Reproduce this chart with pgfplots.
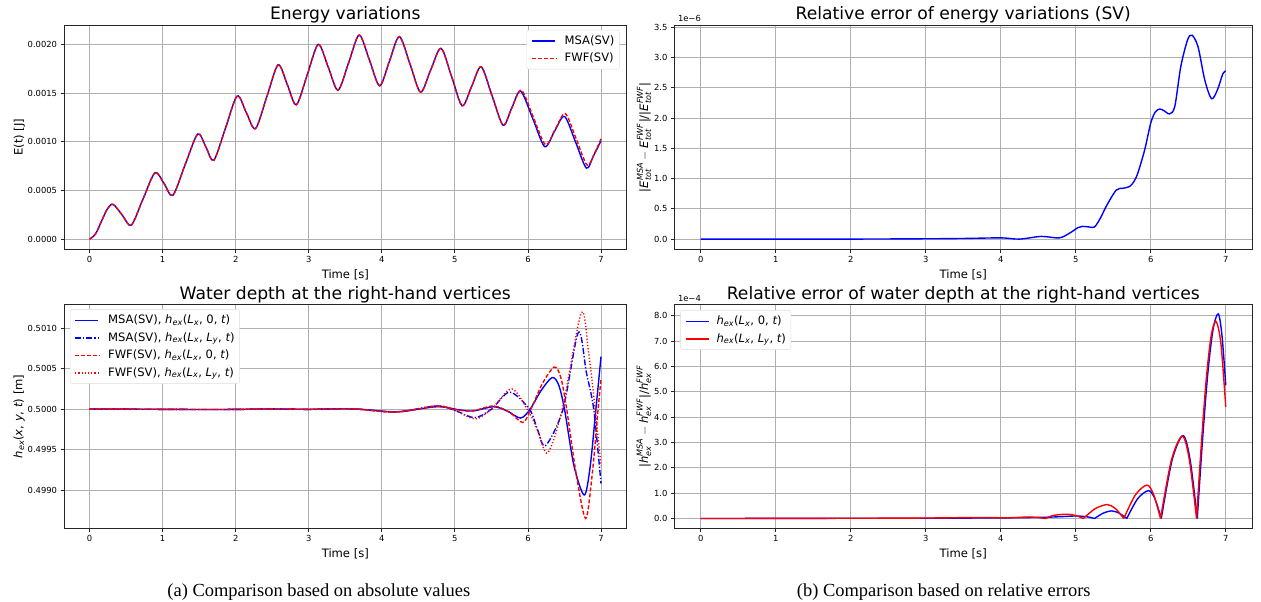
\documentclass[border=0pt]{standalone}
\usepackage{fontspec}
\setmainfont{DejaVu Sans}
\newfontfamily\capfont{Liberation Serif}
\usepackage{amsmath}
\usepackage{pgfplots}
\pgfplotsset{compat=1.18}
\usepackage{pgfplotstable}

\newcommand{\mi}[1]{\text{\itshape #1}}
\newcommand{\tfs}{\fontsize{8.4}{10}\selectfont}
\newcommand{\lfs}{\fontsize{11.6}{13}\selectfont}
\newcommand{\Tfs}{\fontsize{17.2}{20}\selectfont}
\definecolor{gridc}{HTML}{B0B0B0}
\definecolor{legbd}{HTML}{DDDDDD}

% legend samples built from rules
\newcommand{\on}[1]{\rule[2.6pt]{#1}{1.4pt}}
\newcommand{\off}[1]{\hspace*{#1}}
\newcommand{\lsolid}{\on{23pt}}
\newcommand{\ldash}{\on{4pt}\off{2pt}\on{4pt}\off{2pt}\on{4pt}\off{2pt}\on{4pt}\off{2pt}\on{1pt}}
\newcommand{\ldashdot}{\on{6pt}\off{2pt}\on{1.2pt}\off{2pt}\on{6pt}\off{2pt}\on{1.2pt}\off{2pt}\on{0.6pt}}
\newcommand{\ldot}{\on{1.2pt}\off{2pt}\on{1.2pt}\off{2pt}\on{1.2pt}\off{2pt}\on{1.2pt}\off{2pt}\on{1.2pt}\off{2pt}\on{1.2pt}\off{2pt}\on{1.2pt}\off{2pt}\on{1.2pt}}
\tikzset{legbox/.style={draw=legbd, rounded corners=2pt, fill=white, font=\lfs, inner xsep=5pt, inner ysep=2pt}}

\pgfplotsset{
  mpl/.style={
    scale only axis,
    anchor=south west,
    xmin=-0.35, xmax=7.35,
    xtick={0,1,2,3,4,5,6,7},
    xticklabels={0,1,2,3,4,5,6,7},
    grid=major,
    major grid style={draw=gridc, line width=0.8pt},
    axis line style={black!85, line width=0.8pt},
    tick align=outside,
    major tick length=3.5pt,
    tick style={black!85, line width=0.8pt},
    tick pos=left,
    tick label style={font=\tfs},
    label style={font=\lfs},
    ylabel shift=-4pt,
    title style={font=\Tfs, at={(0.5,1)}, anchor=base, yshift=-1pt},
    xlabel={Time [s]},
    /pgf/number format/assume math mode=true,
    scaled ticks=false,
    every axis plot/.append style={line width=1.4pt},
  }
}

\begin{document}
\renewcommand{\arraystretch}{1.35}
\begin{tikzpicture}
\useasboundingbox (0pt,0pt) rectangle (1261pt,603pt);

% ---------------- top left
\begin{axis}[mpl, at={(61pt,353pt)}, width=564pt, height=225pt,
  title={Energy variations}, ylabel={E(t) [J]},
  ymin=-0.000105, ymax=0.0022,
  ytick={0,0.0005,0.001,0.0015,0.002},
  yticklabels={0.0000,0.0005,0.0010,0.0015,0.0020}]
\addplot[draw=blue, solid, smooth] table {
t E
0 0
0.08 0.000052
0.16 0.000179
0.24 0.000306
0.32 0.000358
0.445 0.00025
0.57 0.000143
0.73 0.00041
0.895 0.000682
1.02 0.00057
1.14 0.00045
1.31 0.00077
1.48 0.00108
1.59 0.00095
1.70 0.00081
1.86 0.00114
2.02 0.00147
2.145 0.00130
2.27 0.001135
2.425 0.00146
2.58 0.00179
2.705 0.00159
2.83 0.00138
2.98 0.00169
3.13 0.00200
3.265 0.00177
3.40 0.00153
3.545 0.00181
3.69 0.002096
3.83 0.00184
3.97 0.001575
4.105 0.00183
4.24 0.00208
4.385 0.00180
4.53 0.00151
4.67 0.00174
4.81 0.00196
4.955 0.00167
5.10 0.00137
5.23 0.00157
5.36 0.00177
5.51 0.00147
5.66 0.00117
5.78 0.00135
5.90 0.00152
6.065 0.00124
6.23 0.00095
6.365 0.00111
6.50 0.00126
6.65 0.00100
6.80 0.00073
6.90 0.00086
7.00 0.00101
};
\addplot[draw=red, smooth, dash pattern=on 4pt off 2pt] table {
t E
0 0
0.08 0.000052
0.16 0.000179
0.24 0.000306
0.32 0.000358
0.445 0.00025
0.57 0.000143
0.73 0.00041
0.895 0.000682
1.02 0.00057
1.14 0.00045
1.31 0.00077
1.48 0.00108
1.59 0.00095
1.70 0.00081
1.86 0.00114
2.02 0.00147
2.145 0.00130
2.27 0.001135
2.425 0.00146
2.58 0.00179
2.705 0.00159
2.83 0.00138
2.98 0.00169
3.13 0.00200
3.265 0.00177
3.40 0.00153
3.545 0.00181
3.69 0.002096
3.83 0.00184
3.97 0.001575
4.105 0.00183
4.24 0.00208
4.385 0.00180
4.53 0.00151
4.67 0.00174
4.81 0.00196
4.955 0.00167
5.10 0.00137
5.23 0.00157
5.36 0.00177
5.51 0.00147
5.66 0.00117
5.78 0.00135
5.91 0.00153
6.075 0.00125
6.24 0.00097
6.375 0.00113
6.51 0.00129
6.66 0.00103
6.81 0.00076
6.91 0.00088
7.00 0.00103
};
\node[legbox, anchor=north east] at (rel axis cs:1,1) [xshift=-7pt, yshift=-5pt]
  {\begin{tabular}{@{}l@{\hspace{8pt}}l@{}}
   \textcolor{blue}{\lsolid} & MSA(SV)\\
   \textcolor{red}{\ldash} & FWF(SV)
   \end{tabular}};
\end{axis}

% ---------------- top right
\begin{axis}[mpl, at={(673pt,353pt)}, width=579pt, height=225pt,
  title={Relative error of energy variations (SV)},
  ylabel={$\text{|}\mi{E}^{\mi{MSA}}_{\mi{tot}} - \mi{E}^{\mi{FWF}}_{\mi{tot}}\text{|/|}\mi{E}^{\mi{FWF}}_{\mi{tot}}\text{|}$},
  ymin=-0.17e-6, ymax=3.54e-6,
  ytick={0,0.5e-6,1e-6,1.5e-6,2e-6,2.5e-6,3e-6,3.5e-6},
  yticklabels={0.0,0.5,1.0,1.5,2.0,2.5,3.0,3.5}]
\addplot[draw=blue, solid, smooth] table {
t r
0 0
1 0.0
2 0.0
3 0.005e-6
3.5 0.01e-6
4.0 0.02e-6
4.25 0.0
4.54 0.044e-6
4.78 0.02e-6
4.92 0.10e-6
5.03 0.19e-6
5.09 0.21e-6
5.18 0.20e-6
5.25 0.20e-6
5.33 0.35e-6
5.41 0.55e-6
5.54 0.81e-6
5.63 0.84e-6
5.72 0.87e-6
5.78 0.96e-6
5.83 1.10e-6
5.92 1.48e-6
6.0 1.92e-6
6.06 2.10e-6
6.12 2.15e-6
6.18 2.12e-6
6.25 2.07e-6
6.32 2.19e-6
6.40 2.85e-6
6.49 3.29e-6
6.55 3.37e-6
6.63 3.18e-6
6.72 2.63e-6
6.81 2.32e-6
6.89 2.47e-6
6.96 2.73e-6
7.0 2.78e-6
};
\end{axis}
\node[font=\tfs, anchor=base west] at (673pt,581pt) {1e−6};

% ---------------- bottom left
\begin{axis}[mpl, at={(61pt,73pt)}, width=564pt, height=225pt,
  title={Water depth at the right-hand vertices},
  ylabel={$\mi{h}_{\mi{ex}}$(\mi{x}, \mi{y}, \mi{t}) [m]},
  ymin=0.498524, ymax=0.501296,
  ytick={0.499,0.4995,0.5,0.5005,0.501},
  yticklabels={0.4990,0.4995,0.5000,0.5005,0.5010}]
\addplot[draw=blue, solid, smooth] table {
t h
0 0.500000
0.5 0.500000
1.0 0.499998
1.5 0.499996
2.0 0.499997
2.5 0.500003
3.0 0.499998
3.6 0.500004
4.2 0.499968
4.75 0.500030
5.05 0.499992
5.25 0.499978
5.53 0.500030
5.72 0.499975
5.90 0.499890
6.03 0.500000
6.18 0.500230
6.33 0.500390
6.42 0.500300
6.50 0.500000
6.63 0.499300
6.77 0.498940
6.85 0.499280
6.93 0.500000
7.0 0.500650
};
\addplot[draw=blue, smooth, dash pattern=on 6pt off 2pt on 1.2pt off 2pt] table {
t h
0 0.500000
0.5 0.500000
1.0 0.499998
1.5 0.499996
2.0 0.499997
2.5 0.500003
3.0 0.499998
3.6 0.500004
4.2 0.499965
4.75 0.500040
5.0 0.499985
5.27 0.499895
5.5 0.500000
5.75 0.500210
6.02 0.500000
6.13 0.499750
6.24 0.499550
6.48 0.500000
6.69 0.500950
6.80 0.500450
6.90 0.500000
7.0 0.499080
};
\addplot[draw=red, smooth, dash pattern=on 4pt off 2pt] table {
t h
0 0.500000
0.5 0.500000
1.0 0.499998
1.5 0.499996
2.0 0.499997
2.5 0.500003
3.0 0.499998
3.6 0.500004
4.2 0.499965
4.75 0.500035
5.05 0.499990
5.25 0.499980
5.53 0.500040
5.75 0.499960
5.93 0.499835
6.04 0.500000
6.20 0.500320
6.36 0.500520
6.45 0.500390
6.53 0.500000
6.66 0.499200
6.79 0.498650
6.88 0.499200
6.96 0.500000
7.0 0.500370
};
\addplot[draw=red, smooth, dash pattern=on 1.2pt off 2pt] table {
t h
0 0.500000
0.5 0.500000
1.0 0.499998
1.5 0.499996
2.0 0.499997
2.5 0.500003
3.0 0.499998
3.6 0.500004
4.2 0.499963
4.75 0.500045
5.0 0.499985
5.28 0.499880
5.5 0.500000
5.78 0.500250
6.02 0.499950
6.14 0.499720
6.27 0.499460
6.47 0.500000
6.73 0.501190
6.83 0.500700
6.92 0.500000
7.0 0.499300
};
\node[legbox, anchor=north west] at (rel axis cs:0,1) [xshift=6pt, yshift=-5pt]
  {\begin{tabular}{@{}l@{\hspace{8pt}}l@{}}
   \textcolor{blue}{\lsolid} & MSA(SV), $\mi{h}_{\mi{ex}}$(\mi{L}$_{\mi{x}}$, 0, \mi{t})\\
   \textcolor{blue}{\ldashdot} & MSA(SV), $\mi{h}_{\mi{ex}}$(\mi{L}$_{\mi{x}}$, \mi{L}$_{\mi{y}}$, \mi{t})\\
   \textcolor{red}{\ldash} & FWF(SV), $\mi{h}_{\mi{ex}}$(\mi{L}$_{\mi{x}}$, 0, \mi{t})\\
   \textcolor{red}{\ldot} & FWF(SV), $\mi{h}_{\mi{ex}}$(\mi{L}$_{\mi{x}}$, \mi{L}$_{\mi{y}}$, \mi{t})
   \end{tabular}};
\end{axis}

% ---------------- bottom right
\begin{axis}[mpl, at={(673pt,73pt)}, width=579pt, height=225pt,
  title={Relative error of water depth at the right-hand vertices},
  ylabel={$\text{|}\mi{h}^{\mi{MSA}}_{\mi{ex}} - \mi{h}^{\mi{FWF}}_{\mi{ex}}\text{|/}\mi{h}^{\mi{FWF}}_{\mi{ex}}$},
  ymin=-0.4e-4, ymax=8.45e-4,
  ytick={0,1e-4,2e-4,3e-4,4e-4,5e-4,6e-4,7e-4,8e-4},
  yticklabels={0.0,1.0,2.0,3.0,4.0,5.0,6.0,7.0,8.0}]
\addplot[draw=blue, solid, smooth, unbounded coords=jump] table {
t r
0 0
1 0.005e-4
2 0.01e-4
3 0.01e-4
3.7 0.02e-4
4.2 0.03e-4
4.6 0.05e-4
4.85 0.08e-4
5.0 0.10e-4
5.15 0.07e-4
5.25 0
nan nan
5.25 0
5.365 0.21e-4
5.48 0.30e-4
5.58 0.21e-4
5.68 0
nan nan
5.68 0
5.825 0.78e-4
5.97 1.10e-4
6.055 0.78e-4
6.14 0
nan nan
6.14 0
6.285 2.31e-4
6.43 3.27e-4
6.525 2.31e-4
6.62 0
nan nan
6.62 0
6.69 3.09e-4
6.76 5.7e-4
6.83 7.45e-4
6.90 8.07e-4
6.95 7.2e-4
7.0 5.25e-4
};
\addplot[draw=red, solid, smooth, unbounded coords=jump] table {
t r
0 0
1 0.005e-4
2 0.01e-4
3 0.02e-4
3.7 0.04e-4
4.1 0.03e-4
4.4 0.06e-4
4.6 0
nan nan
4.6 0
4.7 0.12e-4
4.88 0.17e-4
5.0 0.12e-4
5.1 0
nan nan
5.1 0
5.26 0.39e-4
5.42 0.55e-4
5.53 0.39e-4
5.64 0
nan nan
5.64 0
5.795 0.93e-4
5.95 1.32e-4
6.04 0.93e-4
6.13 0
nan nan
6.13 0
6.275 2.30e-4
6.42 3.25e-4
6.515 2.30e-4
6.61 0
nan nan
6.61 0
6.675 2.97e-4
6.74 5.5e-4
6.805 7.2e-4
6.87 7.77e-4
6.935 6.9e-4
7.0 4.40e-4
};
\node[legbox, anchor=north west] at (rel axis cs:0,1) [xshift=6pt, yshift=-6pt]
  {\begin{tabular}{@{}l@{\hspace{8pt}}l@{}}
   \textcolor{blue}{\lsolid} & $\mi{h}_{\mi{ex}}$(\mi{L}$_{\mi{x}}$, 0, \mi{t})\\
   \textcolor{red}{\lsolid} & $\mi{h}_{\mi{ex}}$(\mi{L}$_{\mi{x}}$, \mi{L}$_{\mi{y}}$, \mi{t})
   \end{tabular}};
\end{axis}
\node[font=\tfs, anchor=base west] at (673pt,301pt) {1e−4};

\node[font=\capfont\fontsize{18.5}{20}\selectfont, anchor=base] at (316.5pt,5pt) {(a) Comparison based on absolute values};
\node[font=\capfont\fontsize{18.5}{20}\selectfont, anchor=base] at (943pt,5pt) {(b) Comparison based on relative errors};
\end{tikzpicture}
\end{document}
